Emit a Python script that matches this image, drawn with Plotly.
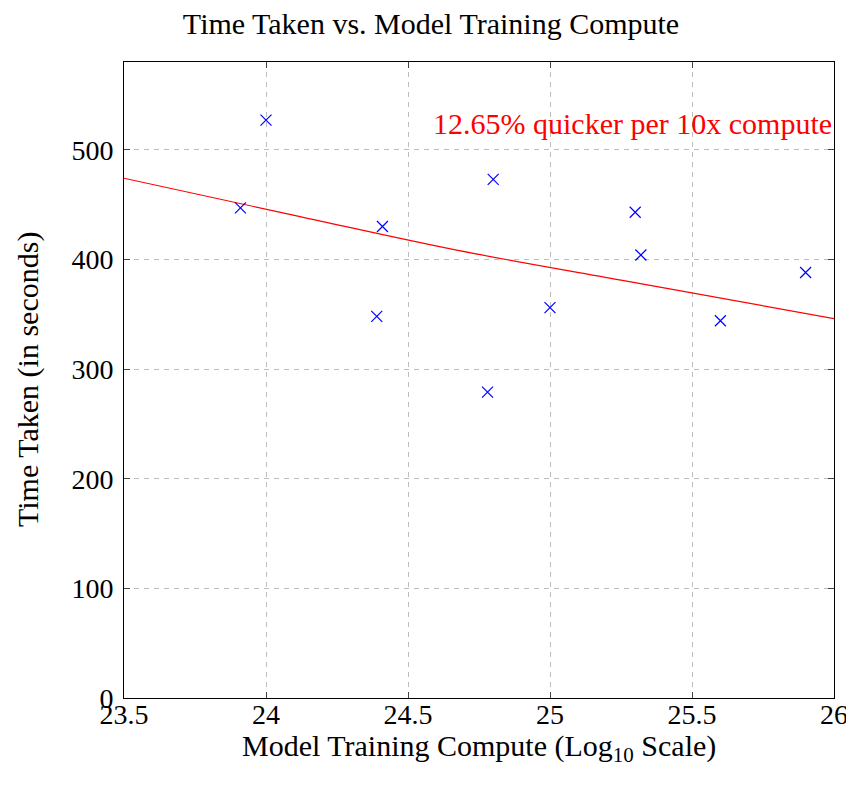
import plotly.graph_objects as go

# Data
compute_log10 = [23.91, 24.00, 24.41, 24.39, 24.80, 24.78, 25.00, 25.30, 25.32, 25.60, 25.90]
time_taken = [447, 527, 430, 348, 473, 279, 356, 443, 404, 344, 388]

# trend line read at several positions
trend_x = [23.5, 24.12, 24.68, 25.25, 26.0]
trend_y = [474, 439, 408, 381, 346]

x_ticks = [23.5, 24, 24.5, 25, 25.5, 26]
x_tick_labels = ["23.5", "24", "24.5", "25", "25.5", "26"]
y_ticks = [0, 100, 200, 300, 400, 500]
y_tick_labels = ["0", "100", "200", "300", "400", "500"]

annotation_text = "12.65% quicker per 10x compute"

FONT = "Liberation Serif"
FS = 30
TFS = 28

# page body has an 8px margin; compensate so the figure fills the 854x785 window
W, H = 846, 777

fig = go.Figure()
fig.add_trace(go.Scatter(
    x=trend_x, y=trend_y, mode="lines", line=dict(color="red", width=1.2, shape="spline"),
    showlegend=False, hoverinfo="skip"))
fig.add_trace(go.Scatter(
    x=compute_log10, y=time_taken, mode="markers",
    marker=dict(symbol="x-thin-open", size=11, color="blue", line=dict(color="blue", width=1.2)),
    showlegend=False))

fig.add_annotation(
    x=1, xref="paper", y=524, yref="y", xanchor="right", yanchor="middle",
    text=annotation_text, showarrow=False, font=dict(family=FONT, size=FS, color="red"))

# axis titles
fig.add_annotation(
    x=0.5, xref="paper", y=0, yref="paper", xanchor="center", yanchor="middle", yshift=-50,
    text="Model Training Compute (Log<sub>10</sub> Scale)", showarrow=False,
    font=dict(family=FONT, size=FS, color="black"))
fig.add_annotation(
    x=0, xref="paper", y=0.5, yref="paper", xanchor="center", yanchor="middle", xshift=-96,
    textangle=-90, text="Time Taken (in seconds)", showarrow=False,
    font=dict(family=FONT, size=FS, color="black"))

axis_common = dict(
    showline=True, linecolor="black", linewidth=1, mirror="allticks",
    ticks="inside", ticklen=6, tickcolor="#444", tickwidth=1,
    showgrid=True, gridcolor="#bdbdbd", gridwidth=1, griddash="5px,5px",
    zeroline=False, tickfont=dict(family=FONT, size=TFS, color="black"),
    automargin=False,
)

fig.update_layout(
    width=W, height=H,
    margin=dict(l=116, r=20, t=54, b=87),
    paper_bgcolor="white", plot_bgcolor="white",
    title=dict(text="Time Taken vs. Model Training Compute", x=0.5, xanchor="center",
               y=1 - 15 / H, yanchor="middle", yref="container",
               font=dict(family=FONT, size=FS, color="black")),
    xaxis=dict(range=[23.5, 26], tickvals=x_ticks, ticktext=x_tick_labels,
               ticklabelstandoff=-9, **axis_common),
    yaxis=dict(range=[0, 580], tickvals=y_ticks, ticktext=y_tick_labels,
               ticklabelstandoff=4, **axis_common),
)

fig.write_html("out.html")
